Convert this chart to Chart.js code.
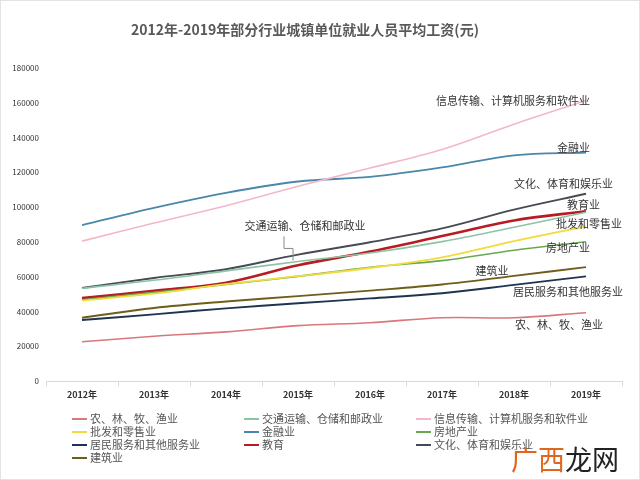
<!DOCTYPE html>
<html>
<head>
<meta charset="utf-8">
<script src="https://cdn.jsdelivr.net/npm/chart.js@4"></script>
<style>
  html, body { margin: 0; padding: 0; background: #fff; }
  #wrap { width: 640px; height: 480px; position: relative; }
</style>
</head>
<body>
<div id="wrap"><canvas id="chart" width="640" height="480"></canvas></div>
<script>
// === Data (元) ===
const years = ["2012年", "2013年", "2014年", "2015年", "2016年", "2017年", "2018年", "2019年"];

const agriculture   = [22687, 25820, 28356, 31947, 33612, 36504, 36466, 39340];
const transport     = [53391, 57993, 63416, 68822, 73650, 80225, 88508, 97050];
const infoTech      = [80510, 90915, 100845, 112042, 122478, 133150, 147678, 161352];
const retail        = [46340, 50308, 55838, 60328, 65061, 71201, 80551, 89047];
const finance       = [89743, 99653, 108273, 114777, 117418, 122851, 129837, 131405];
const realEstate    = [46764, 51048, 55568, 60244, 65497, 69277, 75281, 80157];
const residentSvc   = [35135, 38429, 41882, 44802, 47577, 50552, 55343, 60232];
const education     = [47734, 51950, 56580, 66592, 74498, 83412, 92383, 97681];
const culture       = [53558, 59336, 64375, 72764, 79875, 87803, 98621, 107708];
const construction  = [36483, 42072, 45804, 48886, 52082, 55568, 60501, 65580];

const seriesNames = [
    "农、林、牧、渔业", "交通运输、仓储和邮政业", "信息传输、计算机服务和软件业",
    "批发和零售业", "金融业", "房地产业",
    "居民服务和其他服务业", "教育", "文化、体育和娱乐业",
    "建筑业"
];

const yTicks = [0, 20000, 40000, 60000, 80000, 100000, 120000, 140000, 160000, 180000];

// === Styling ===
const chartProps = {
    font: "'Noto Sans CJK SC', 'Noto Sans', sans-serif",
    textColor: "#333",
    axisColor: "#d9d9d9",
    colors: ["#d9787b", "#8cc4a6", "#f2b8c9", "#f0dc3c", "#4b87ab",
             "#6aa84f", "#1f3450", "#b81c22", "#464b53", "#6d5e1c"],
    widths: [1.6, 1.6, 1.6, 1.8, 1.8, 1.6, 1.9, 2.6, 1.9, 1.9]
};

// labels next to the lines: [dataset, point index, dx, dy, align]
const lineLabels = [
    [2, 7, 4, 0, "right", "信息传输、计算机服务和软件业"],
    [4, 7, 4, -5, "right", "金融业"],
    [8, 7, 27, -10, "right", "文化、体育和娱乐业"],
    [7, 7, 14, -6, "right", "教育业"],
    [3, 7, 36, -2, "right", "批发和零售业"],
    [5, 7, 4, 6, "right", "房地产业"],
    [9, 6, -22, -5, "center", "建筑业"],
    [6, 7, 37, 15, "right", "居民服务和其他服务业"],
    [0, 7, 17, 12, "right", "农、林、牧、渔业"],
    [1, 3, 7, -36, "center", "交通运输、仓储和邮政业"]
];

const allSeries = [agriculture, transport, infoTech, retail, finance,
                   realEstate, residentSvc, education, culture, construction];

function getDatasets() {
    return allSeries.map((data, i) => ({
        label: seriesNames[i],
        data: data,
        borderColor: chartProps.colors[i],
        backgroundColor: chartProps.colors[i],
        borderWidth: chartProps.widths[i],
        pointRadius: 0,
        tension: 0.35,
        fill: false
    }));
}

const decorPlugin = {
    id: "decor",
    beforeDraw(chart) {
        const c = chart.ctx;
        c.save();
        c.fillStyle = "#fff";
        c.fillRect(0, 0, chart.width, chart.height);
        c.strokeStyle = "#e3e3e3";
        c.lineWidth = 1;
        c.strokeRect(0.5, 0.5, chart.width - 1, chart.height - 1);
        c.restore();
    },
    afterDraw(chart) {
        const c = chart.ctx;
        c.save();
        // title
        c.font = "bold 14px " + chartProps.font;
        c.fillStyle = "#595959";
        c.textAlign = "center";
        c.textBaseline = "middle";
        c.fillText("2012年-2019年部分行业城镇单位就业人员平均工资(元)", 305, 30);

        // line labels
        c.font = "11px " + chartProps.font;
        c.fillStyle = "#333";
        lineLabels.forEach(([ds, idx, dx, dy, align, text]) => {
            const pt = chart.getDatasetMeta(ds).data[idx];
            c.textAlign = align;
            c.fillText(text, pt.x + dx, pt.y + dy);
        });

        // leader line for transport label
        const tp = chart.getDatasetMeta(1).data[3];
        c.strokeStyle = "#8a8a8a";
        c.lineWidth = 1;
        c.beginPath();
        c.moveTo(tp.x - 14, tp.y - 25);
        c.lineTo(tp.x - 14, tp.y - 13);
        c.lineTo(tp.x - 5, tp.y - 13);
        c.lineTo(tp.x - 5, tp.y - 1);
        c.stroke();

        // legend, 3 columns
        c.font = "11px " + chartProps.font;
        c.textAlign = "left";
        c.textBaseline = "middle";
        chart.data.datasets.forEach((d, i) => {
            const col = i % 3, row = Math.floor(i / 3);
            const x = 72 + col * 172, y = 419 + row * 13;
            c.strokeStyle = d.borderColor;
            c.lineWidth = 2;
            c.beginPath();
            c.moveTo(x, y);
            c.lineTo(x + 15, y);
            c.stroke();
            c.fillStyle = "#555";
            c.fillText(d.label, x + 18, y);
        });

        // watermark
        c.font = "27px " + chartProps.font;
        c.textBaseline = "middle";
        c.fillStyle = "#e0661e";
        c.fillText("广西", 511, 460);
        const w = c.measureText("广西").width;
        c.fillStyle = "#222";
        c.fillText("龙网", 511 + w, 460);
        c.restore();
    }
};

new Chart(document.getElementById("chart"), {
    type: "line",
    data: { labels: years, datasets: getDatasets() },
    options: {
        responsive: false,
        animation: false,
        layout: { padding: { top: 68, right: 18, bottom: 77, left: 0 } },
        plugins: {
            legend: { display: false },
            title: { display: false },
            tooltip: { enabled: false }
        },
        scales: {
            x: {
                offset: true,
                grid: {
                    offset: true,
                    drawOnChartArea: false,
                    drawTicks: true,
                    tickLength: 5,
                    color: chartProps.axisColor
                },
                border: { display: true, color: chartProps.axisColor },
                ticks: {
                    color: chartProps.textColor,
                    padding: 3,
                    font: { family: chartProps.font, size: 9, weight: "bold" }
                }
            },
            y: {
                min: 0,
                max: 180000,
                afterBuildTicks: s => { s.ticks = yTicks.map(v => ({ value: v })); },
                afterFit: s => { s.width = 46; },
                grid: { display: false, drawTicks: false },
                border: { display: false },
                ticks: {
                    color: chartProps.textColor,
                    padding: 7,
                    font: { family: chartProps.font, size: 8 },
                    callback: v => String(v)
                }
            }
        }
    },
    plugins: [decorPlugin]
});
</script>
</body>
</html>
